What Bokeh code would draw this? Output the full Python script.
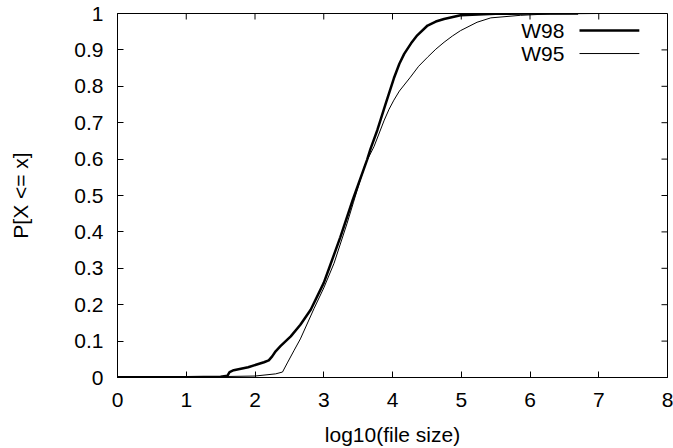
import math
from bokeh.plotting import figure
from bokeh.models import Range1d, FixedTicker, Label
from bokeh.embed import file_html
from bokeh.resources import INLINE

# ---- data ----
w98_x = [0.0, 1.0, 1.5, 1.6, 1.63, 1.69, 1.9, 2.13, 2.2, 2.25, 2.3, 2.37, 2.52, 2.66, 2.81,
         3.0, 3.07, 3.24, 3.42, 3.63, 3.68, 3.78, 3.9, 4.02, 4.1, 4.17, 4.27, 4.36, 4.51, 4.63, 4.75,
         4.99, 5.5, 6.0, 6.7]
w98_y = [0.001, 0.001, 0.002, 0.005, 0.015, 0.02, 0.028, 0.042, 0.047, 0.058, 0.072, 0.086, 0.113, 0.145, 0.186,
         0.26, 0.296, 0.385, 0.487, 0.598, 0.628, 0.68, 0.752, 0.822, 0.862, 0.889, 0.918, 0.94, 0.967, 0.978, 0.985,
         0.995, 0.999, 1.0, 1.0]

w95_x = [0.0, 1.0, 2.0, 2.3, 2.4, 2.47, 2.57, 2.66, 2.86, 3.0, 3.15, 3.34, 3.43, 3.6, 3.73,
         3.88, 3.95, 4.02, 4.1, 4.26, 4.38, 4.51, 4.63, 4.75, 4.87, 4.99, 5.23, 5.43, 5.86, 6.3, 7.0]
w95_y = [0.0, 0.001, 0.004, 0.01, 0.015, 0.04, 0.075, 0.106, 0.19, 0.246, 0.314, 0.424, 0.48, 0.585, 0.634,
         0.707, 0.737, 0.762, 0.787, 0.825, 0.855, 0.88, 0.902, 0.921, 0.938, 0.953, 0.976, 0.988, 0.995, 0.999, 1.0]

x_ticks = [0, 1, 2, 3, 4, 5, 6, 7, 8]
y_ticks = [0, 0.1, 0.2, 0.3, 0.4, 0.5, 0.6, 0.7, 0.8, 0.9, 1]
y_tick_labels = {0: "0", 0.1: "0.1", 0.2: "0.2", 0.3: "0.3", 0.4: "0.4", 0.5: "0.5",
                 0.6: "0.6", 0.7: "0.7", 0.8: "0.8", 0.9: "0.9", 1: "1"}
series_names = ["W98", "W95"]

FONT = "Liberation Sans"
FS = "21px"
X_MIN, X_MAX, Y_MIN, Y_MAX = 0, 8, 0, 1

p = figure(width=673, height=448, output_backend="svg", toolbar_location=None,
           x_range=Range1d(X_MIN, X_MAX), y_range=Range1d(Y_MIN, Y_MAX),
           min_border_left=117, min_border_right=6, min_border_top=13, min_border_bottom=70)
p.grid.visible = False
p.outline_line_color = "black"
p.outline_line_width = 1
p.background_fill_color = "white"
p.border_fill_color = "white"

def style_axis(ax):
    ax.axis_line_color = "black"
    ax.axis_line_width = 1
    ax.major_tick_in = 6
    ax.major_tick_out = 0
    ax.major_tick_line_color = "black"
    ax.minor_tick_line_color = None
    ax.major_label_text_font = FONT
    ax.major_label_text_color = "black"
    ax.major_label_text_font_size = FS
    ax.axis_label_text_font = FONT
    ax.axis_label_text_font_style = "normal"
    ax.axis_label_text_color = "black"
    ax.axis_label_text_font_size = FS

xa = p.xaxis[0]
xa.ticker = FixedTicker(ticks=x_ticks)
style_axis(xa)
xa.axis_label = "log10(file size)"
xa.major_label_standoff = 15
xa.axis_label_standoff = 13

ya = p.yaxis[0]
ya.ticker = FixedTicker(ticks=y_ticks)
ya.major_label_overrides = y_tick_labels
style_axis(ya)
ya.axis_label = "P[X <= x]"
ya.major_label_standoff = 14
ya.axis_label_standoff = 39

# mirrored inward ticks on the top and right edges (gnuplot style)
p.ray(x=x_ticks, y=[Y_MAX] * len(x_ticks), length=6, length_units="screen",
      angle=-math.pi / 2, line_color="black", line_width=1)
p.ray(x=[X_MAX] * len(y_ticks), y=y_ticks, length=6, length_units="screen",
      angle=math.pi, line_color="black", line_width=1)

p.line(w98_x, w98_y, line_color="black", line_width=2.5, line_join="round")
p.line(w95_x, w95_y, line_color="black", line_width=1, line_join="round")

# legend (text to the left of the sample line, gnuplot style)
leg_y = [0.953, 0.890]
leg_w = [2.5, 1]
for name, ly, lw in zip(series_names, leg_y, leg_w):
    p.add_layout(Label(x=6.50, y=ly, text=name, text_align="right", text_baseline="middle",
                       text_font=FONT, text_font_size=FS, text_color="black"))
    p.segment(x0=[6.72], y0=[ly], x1=[7.59], y1=[ly], line_color="black", line_width=lw)

open("out.html", "w").write(file_html(p, INLINE))
